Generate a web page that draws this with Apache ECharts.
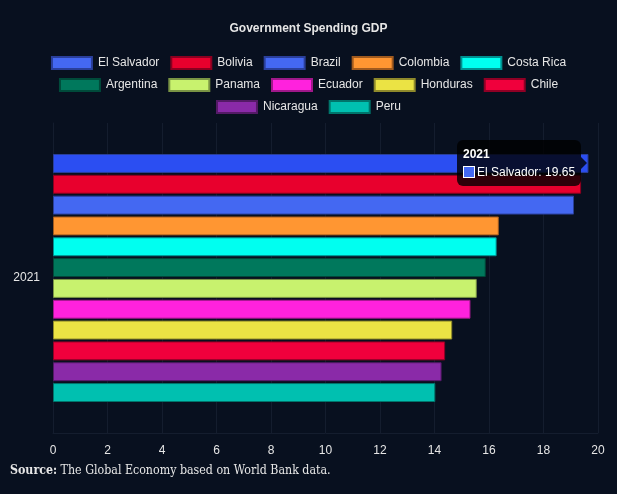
<!DOCTYPE html>
<html>
<head>
<meta charset="utf-8">
<script src="https://cdn.jsdelivr.net/npm/echarts@6/dist/echarts.min.js"></script>
<style>html,body{margin:0;padding:0;background:#08101f;}#chart{width:617px;height:494px;}</style>
</head>
<body>
<div id="chart"></div>
<script>
// ---- data ----
const categories = ['2021'];
const countries = ['El Salvador','Bolivia','Brazil','Colombia','Costa Rica','Argentina','Panama','Ecuador','Honduras','Chile','Nicaragua','Peru'];
const values = [19.65, 19.38, 19.12, 16.36, 16.28, 15.88, 15.55, 15.32, 14.65, 14.39, 14.26, 14.03];
const xTicks = [0, 2, 4, 6, 8, 10, 12, 14, 16, 18, 20];
const legendRows = [
  ['El Salvador','Bolivia','Brazil','Colombia','Costa Rica'],
  ['Argentina','Panama','Ecuador','Honduras','Chile'],
  ['Nicaragua','Peru']
];

// ---- styles ----
const fills = ['#4468F2','#E8002D','#4468F2','#FF9632','#00FFF0','#00785C','#C8F26E','#FF22DD','#EBE344','#F0003C','#8A2AA8','#00C0B0'];
const borders = ['#2a3f9a','#8a0020','#2a3f9a','#a05a1e','#009090','#004a3a','#7a9444','#a0188a','#8f8a2b','#900025','#541a66','#00756b'];
const textColor = '#e6e6e6';
const gridColor = '#141d2e';
const font = 'Liberation Sans, Arial, sans-serif';

const chart = echarts.init(document.getElementById('chart'), null, {renderer: 'canvas'});

const series = countries.map((name, i) => ({
  name: name,
  type: 'bar',
  barGap: '10%',
  barCategoryGap: '20%',
  itemStyle: {color: fills[i], borderColor: borders[i], borderWidth: 1},
  emphasis: {disabled: true},
  data: categories.map(() => (i === 0 ? {value: values[i], itemStyle: {color: '#2B4EF2'}} : values[i]))
}));

const legendTops = [56, 78, 100];
const legends = legendRows.map((row, r) => ({
  data: row,
  top: legendTops[r],
  left: 'center',
  padding: 0,
  icon: 'rect',
  itemWidth: 40,
  itemHeight: 12,
  itemGap: 11,
  selectedMode: false,
  textStyle: {color: textColor, fontSize: 12, fontFamily: font, padding: [0, 0, 0, 1]}
}));

chart.setOption({
  animation: false,
  backgroundColor: '#08101f',
  title: {
    text: 'Government Spending GDP',
    left: 'center',
    top: 23,
    padding: 0,
    textStyle: {color: textColor, fontSize: 12, fontWeight: 'bold', fontFamily: font}
  },
  legend: legends,
  grid: {left: 53, right: 19, top: 123, bottom: 61, containLabel: false},
  xAxis: {
    type: 'value',
    min: xTicks[0],
    max: xTicks[xTicks.length - 1],
    interval: xTicks[1] - xTicks[0],
    axisLine: {show: true, lineStyle: {color: gridColor}},
    axisTick: {show: false},
    splitLine: {show: true, lineStyle: {color: gridColor, width: 1}},
    axisLabel: {color: textColor, fontSize: 12, fontFamily: font, margin: 12}
  },
  yAxis: {
    type: 'category',
    data: categories,
    inverse: true,
    axisLine: {show: true, lineStyle: {color: gridColor}},
    axisTick: {show: false},
    splitLine: {show: false},
    axisLabel: {color: textColor, fontSize: 12, fontFamily: font, margin: 13}
  },
  tooltip: {
    trigger: 'item',
    alwaysShowContent: true,
    transitionDuration: 0,
    backgroundColor: 'rgba(0,0,0,0.8)',
    borderWidth: 0,
    borderRadius: 6,
    padding: 6,
    extraCssText: 'box-shadow:none;border-radius:6px;overflow:visible;',
    textStyle: {color: '#fff', fontSize: 12, fontFamily: font},
    position: function (point, params, dom, rect, size) {
      const w = size.contentSize[0], h = size.contentSize[1];
      return [rect.x + rect.width - w - 7, rect.y + rect.height / 2 - h / 2];
    },
    formatter: function (p) {
      const c = fills[p.seriesIndex];
      return '<div style="position:relative;">' +
        '<div style="font-weight:bold;line-height:16px;margin-bottom:2px;">' + p.name + '</div>' +
        '<div style="line-height:16px;white-space:nowrap;"><span style="display:inline-block;width:10px;height:10px;background:' + c + ';border:1px solid #fff;vertical-align:-2px;margin-right:2px;"></span>' +
        p.seriesName + ': ' + p.value + '</div>' +
        '<div style="position:absolute;right:-12px;top:50%;margin-top:-6px;width:0;height:0;border-top:6px solid transparent;border-bottom:6px solid transparent;border-left:6px solid rgba(0,0,0,0.8);"></div>' +
        '</div>';
    }
  },
  graphic: [{
    type: 'text',
    left: 10,
    top: 465,
    style: {
      text: '{b|Source:} The Global Economy based on World Bank data.',
      rich: {b: {fontWeight: 'bold', fontFamily: 'DejaVu Serif Condensed, DejaVu Serif, serif', fontSize: 12.3, fill: textColor}},
      fontFamily: 'DejaVu Serif Condensed, DejaVu Serif, serif',
      fontSize: 12.3,
      fill: textColor
    }
  }],
  series: series
});

chart.dispatchAction({type: 'showTip', seriesIndex: 0, dataIndex: 0});
</script>
</body>
</html>
